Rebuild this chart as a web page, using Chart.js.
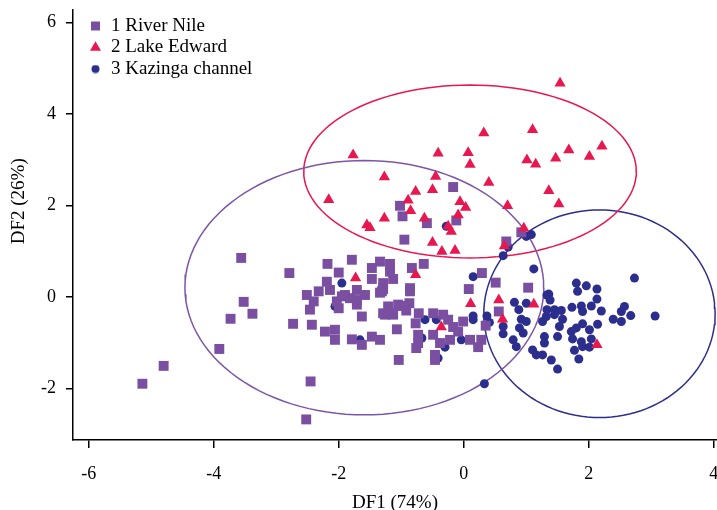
<!DOCTYPE html>
<html>
<head>
<meta charset="utf-8">
<script src="https://cdn.jsdelivr.net/npm/chart.js@4.4.1/dist/chart.umd.min.js"></script>
<style>
  html, body { margin: 0; padding: 0; background: #fff; }
  #wrap { width: 717px; height: 510px; }
</style>
</head>
<body>
<div id="wrap"><canvas id="grafico"></canvas></div>
<script>
// group names, colours and point shapes
const groupNames = ['1 River Nile', '2 Lake Edward', '3 Kazinga channel'];
const groupColors = ['#7a4fa1', '#e8174f', '#2b2e8c'];
const ellipseColors = ['#7d55a8', '#e8174f', '#2b2e8c'];

// DF1 / DF2 scores per group
const nilePoints = [
  [-3.56, 0.85], [-3.52, -0.11], [-3.38, -0.37], [-3.73, -0.48], [-3.91, -1.14], [-4.80, -1.51], [-5.14, -1.90],
  [-2.45, -1.85], [-2.52, -2.68], [-2.79, 0.52], [-2.73, -0.59],
  [-2.18, 0.72], [-1.79, 0.81], [-1.34, 0.77], [-1.18, 0.72], [-1.47, 0.63], [-2.00, 0.53], [-1.18, 0.55],
  [-1.47, 0.39], [-1.13, 0.39], [-2.19, 0.33], [-1.29, 0.30], [-2.51, 0.04], [-2.32, 0.12], [-2.14, 0.15],
  [-1.90, 0.04], [-1.71, 0.15], [-1.58, 0.04], [-1.31, 0.12], [-1.05, -0.17], [-2.46, -0.28], [-2.00, -0.25],
  [-1.71, -0.17], [-1.29, -0.36], [-1.18, -0.36], [-1.63, -0.43], [-2.43, -0.61], [-1.07, -0.71], [-2.22, -0.76],
  [-2.06, -0.72], [-2.06, -0.94], [-1.79, -0.93], [-1.63, -1.05], [-1.47, -0.87], [-1.34, -0.94], [-1.04, -1.38],
  [-2.40, -0.10], [-2.03, -0.10], [-1.95, 0.01], [-1.82, -0.03], [-1.71, -0.07], [-1.29, 0.17], [-1.34, 0.09],
  [-0.83, 0.63], [-0.64, 0.72], [-0.86, 0.19], [-0.86, 0.12], [-0.87, -0.14], [-1.21, -0.21], [-1.02, -0.20],
  [-1.26, -0.39], [-1.13, -0.39], [-0.92, -0.30], [-0.72, -0.36], [-0.77, -0.58], [-0.49, -0.36], [-0.33, -0.39],
  [-0.73, -0.83], [-0.73, -1.01], [-0.76, -1.12], [-0.49, -0.83], [-0.38, -1.01], [-0.46, -1.27], [-0.46, -1.38],
  [-0.17, 2.40], [-1.02, 1.99], [-0.98, 1.76], [-0.59, 1.61], [-0.12, 1.67], [-0.95, 1.25],
  [0.29, 0.52], [0.51, 0.31], [0.08, 0.17], [1.03, 0.20], [0.56, -0.32], [0.35, -0.63], [-0.25, -0.50],
  [-0.01, -0.54], [-0.17, -0.66], [-0.09, -0.76], [-0.22, -0.94], [0.10, -0.94], [0.23, -1.10], [0.28, -0.94],
  [0.92, 1.41], [0.68, 1.21]
];

const edwardPoints = [
  [-1.77, 3.10], [0.32, 3.58], [-0.41, 3.14], [0.07, 3.15], [0.10, 2.89], [-1.27, 2.62], [-0.45, 2.63],
  [-0.77, 2.30], [-0.50, 2.34], [-2.16, 2.12], [-0.89, 2.11], [-0.06, 2.08], [0.03, 1.95], [0.40, 2.50],
  [-0.85, 1.88], [-0.09, 1.79], [-1.27, 1.72], [-1.55, 1.57], [-1.50, 1.51], [-0.63, 1.72], [-0.25, 1.54],
  [-0.20, 1.43], [-0.50, 1.19], [-0.35, 0.99], [-0.14, 1.01],
  [1.54, 4.67], [1.10, 3.65], [1.01, 2.99], [1.15, 2.90], [1.47, 3.03], [1.68, 3.21], [2.01, 3.07],
  [2.21, 3.29], [1.36, 2.32], [1.52, 2.03], [0.70, 1.99], [0.96, 1.50], [0.65, 1.11],
  [-1.73, 0.41], [-0.77, 0.48], [-0.36, -0.66], [0.11, -0.15], [0.56, -0.07], [0.62, -0.49], [1.12, -0.16],
  [2.13, -1.05]
];

const kazingaPoints = [
  [-0.28, 1.54], [1.00, 1.32], [1.08, 1.36], [0.71, 1.09], [0.63, 0.90], [-1.95, 0.30], [-2.06, -0.21],
  [-1.66, -0.94], [-0.62, -0.50], [-0.44, -0.50], [-0.67, -0.90], [-0.30, -1.10], [-0.41, -1.34],
  [1.12, 0.61], [0.15, 0.44], [0.81, -0.12], [1.00, -0.14], [0.88, -0.28], [0.15, -0.42], [0.15, -0.50],
  [0.37, -0.42], [0.41, -0.56], [0.63, -0.65], [0.63, -0.81], [0.92, -0.49], [1.00, -0.54], [0.89, -0.68],
  [0.95, -0.79], [0.79, -0.94], [0.84, -1.09], [1.10, -1.16], [1.16, -1.27], [1.29, -1.01], [1.29, -0.87],
  [1.33, 0.04], [1.32, -0.43], [-0.04, -0.94], [0.33, -1.90],
  [2.73, 0.41], [1.80, 0.30], [1.96, 0.24], [2.13, 0.17], [1.82, 0.12], [1.36, 0.06], [1.38, -0.07],
  [2.13, -0.05], [1.33, -0.28], [1.45, -0.28], [1.56, -0.30], [1.45, -0.39], [1.73, -0.23], [1.88, -0.20],
  [2.04, -0.20], [1.90, -0.32], [2.20, -0.31], [2.57, -0.21], [2.52, -0.32], [2.67, -0.41], [2.39, -0.49],
  [2.52, -0.54], [3.06, -0.42], [1.58, -0.49], [1.26, -0.54], [2.14, -0.60], [1.90, -0.59], [1.80, -0.68],
  [1.72, -0.76], [2.01, -0.72], [1.53, -0.65], [1.50, -0.87], [1.74, -0.92], [1.88, -0.98], [2.04, -0.92],
  [1.90, -1.09], [2.01, -1.10], [1.77, -1.17], [1.84, -1.36], [1.26, -1.27], [1.40, -1.38], [1.50, -1.58]
];

// confidence ellipses: centre and semi-axes per group
const ellipseCX = [-1.59, 0.10, 2.17];
const ellipseCY = [0.20, 2.74, -0.37];
const ellipseRX = [2.87, 2.66, 1.85];
const ellipseRY = [2.78, 1.89, 2.27];

const xTicks = [-6, -4, -2, 0, 2, 4];
const yTicks = [-2, 0, 2, 4, 6];

function ellipsePath(i) {
    const pts = [];
    for (let a = 0; a <= 360; a += 3) {
        const t = a * Math.PI / 180;
        pts.push({ x: ellipseCX[i] + ellipseRX[i] * Math.cos(t), y: ellipseCY[i] + ellipseRY[i] * Math.sin(t) });
    }
    return pts;
}

const toXY = arr => arr.map(p => ({ x: p[0], y: p[1] }));

const serif = 'Liberation Serif, Times New Roman, serif';

const datasets = [
    { label: groupNames[0], data: toXY(nilePoints), pointStyle: 'rect', pointRadius: 7, order: 1 },
    { label: groupNames[1], data: toXY(edwardPoints), pointStyle: 'triangle', pointRadius: 6.5, order: 0 },
    { label: groupNames[2], data: toXY(kazingaPoints), pointStyle: 'circle', pointRadius: 4.5, order: 2 }
].map((d, i) => Object.assign(d, {
    backgroundColor: groupColors[i],
    borderColor: groupColors[i],
    borderWidth: 0,
    pointHoverRadius: d.pointRadius
}));

ellipseColors.forEach((c, i) => {
    datasets.push({
        label: 'ellipse' + i,
        data: ellipsePath(i),
        showLine: true,
        pointRadius: 0,
        borderColor: c,
        borderWidth: 1.5,
        backgroundColor: 'transparent',
        tension: 0,
        order: 5
    });
});

// smaller dot for the legend's circle entry
const legendDot = document.createElement('canvas');
legendDot.width = 9;
legendDot.height = 9;
(function () {
    const c = legendDot.getContext('2d');
    c.fillStyle = groupColors[2];
    c.beginPath();
    c.arc(4.5, 4.5, 4, 0, Math.PI * 2);
    c.fill();
})();

// nudge the legend box inside the plot, like the original
const legendShift = {
    id: 'legendShift',
    afterLayout(chart) {
        chart.legend.left = 87;
        chart.legend.top = 14;
    }
};

new Chart(document.getElementById('grafico'), {
    type: 'scatter',
    data: { datasets: datasets },
    plugins: [legendShift],
    options: {
        responsive: true,
        maintainAspectRatio: false,
        animation: false,
        layout: { autoPadding: false, padding: { top: 10, right: 0, left: 0, bottom: 0 } },
        plugins: {
            tooltip: { enabled: false },
            legend: {
                position: 'chartArea',
                align: 'start',
                labels: {
                    usePointStyle: true,
                    boxWidth: 12,
                    boxHeight: 9,
                    padding: 2.5,
                    color: '#000',
                    font: { family: serif, size: 19 },
                    filter: item => item.datasetIndex < 3,
                    sort: (a, b) => a.datasetIndex - b.datasetIndex,
                    generateLabels: chart => {
                        const items = Chart.defaults.plugins.legend.labels.generateLabels(chart);
                        items.forEach(it => { if (it.datasetIndex === 2) it.pointStyle = legendDot; });
                        return items;
                    }
                }
            }
        },
        scales: {
            x: {
                type: 'linear',
                min: -6.25,
                max: 4.05,
                afterFit: s => { s.height = 70; s.paddingLeft = 0; s.paddingRight = 0; },
                afterBuildTicks: s => { s.ticks = xTicks.map(v => ({ value: v })); },
                border: { display: true, color: '#000', width: 1.5 },
                grid: { display: true, drawOnChartArea: false, drawTicks: true, tickLength: 8, color: '#000', lineWidth: 1.5 },
                ticks: { color: '#000', padding: 15, maxRotation: 0, font: { family: serif, size: 18 } },
                title: { display: true, text: 'DF1 (74%)', color: '#000', padding: { top: 0, bottom: 0 }, font: { family: serif, size: 19, lineHeight: 0.75 } }
            },
            y: {
                type: 'linear',
                min: -3.13,
                max: 6.27,
                afterFit: s => { s.width = 73; s.paddingTop = 0; s.paddingBottom = 0; },
                afterBuildTicks: s => { s.ticks = yTicks.map(v => ({ value: v })); },
                border: { display: true, color: '#000', width: 1.5 },
                grid: { display: true, drawOnChartArea: false, drawTicks: true, tickLength: 7, color: '#000', lineWidth: 1.5 },
                ticks: { color: '#000', padding: 10, font: { family: serif, size: 18 } },
                title: { display: true, text: '\u00a0\u00a0\u00a0\u00a0\u00a0\u00a0\u00a0\u00a0\u00a0\u00a0DF2 (26%)', color: '#000', padding: { top: 10, bottom: 0 }, font: { family: serif, size: 19, lineHeight: 1 } }
            }
        }
    }
});
</script>
</body>
</html>
